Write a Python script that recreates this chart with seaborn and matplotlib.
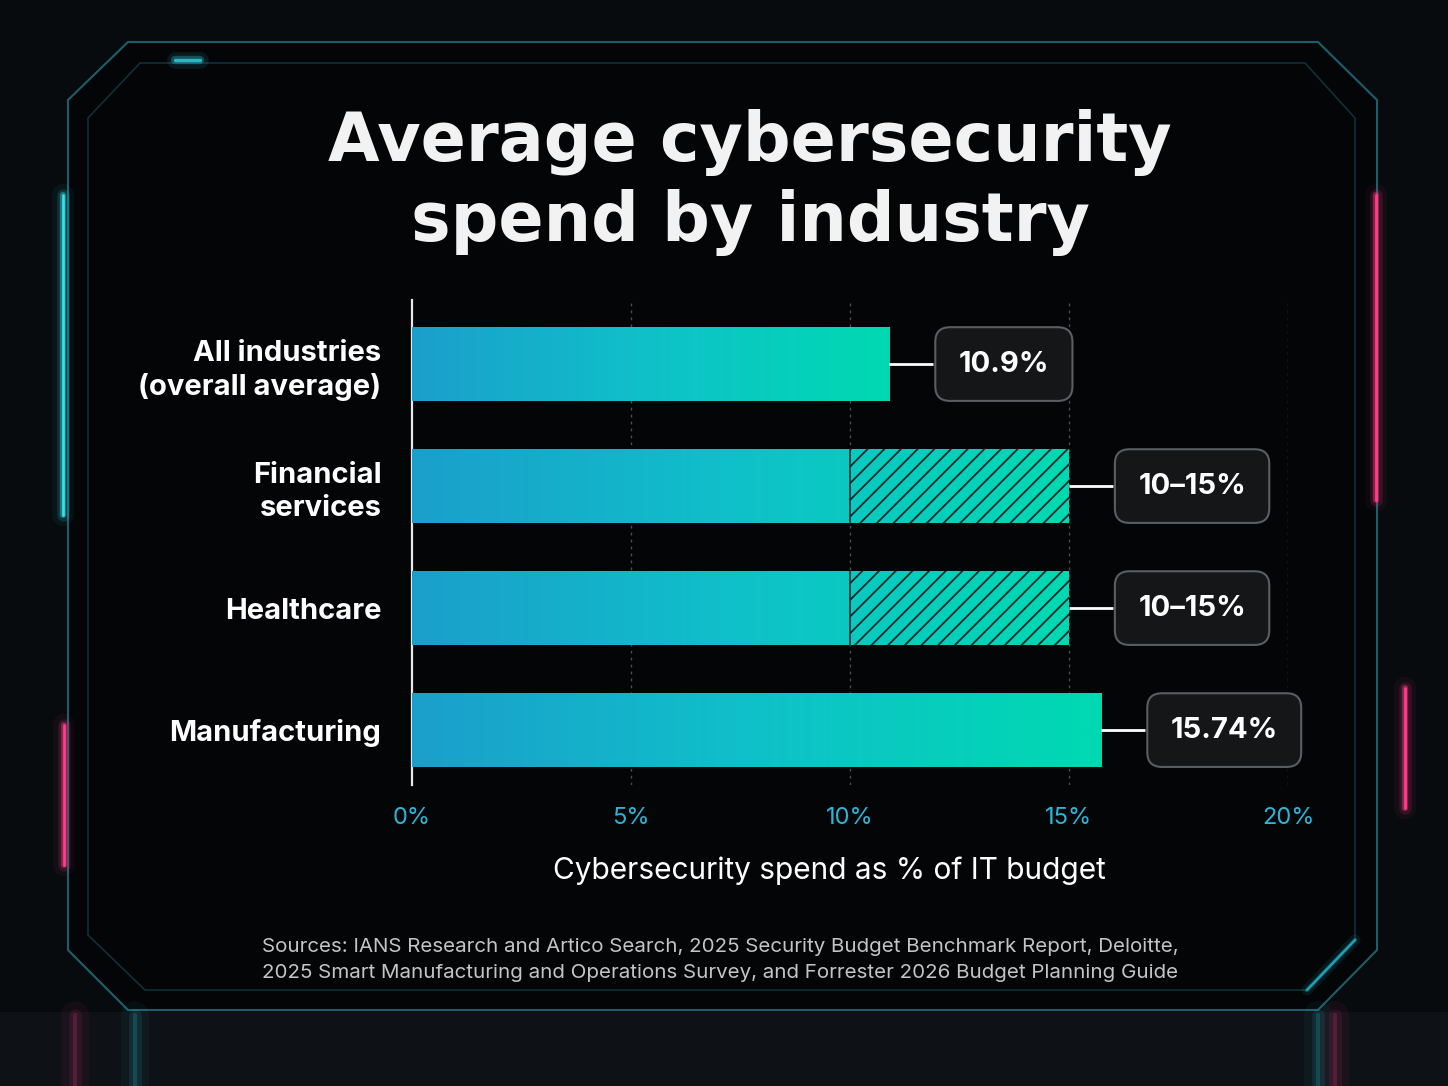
import numpy as np
import pandas as pd
import matplotlib
matplotlib.use("Agg")
import matplotlib.pyplot as plt
import seaborn as sns
from matplotlib.colors import LinearSegmentedColormap
from matplotlib.lines import Line2D
from matplotlib.patches import Polygon

# data
industries = ["All industries\n(overall average)", "Financial\nservices", "Healthcare", "Manufacturing"]
spend_low = [10.9, 10, 10, 15.74]
spend_high = [10.9, 15, 15, 15.74]
value_labels = ["10.9%", "10–15%", "10–15%", "15.74%"]
x_ticks = [0, 5, 10, 15, 20]
x_tick_labels = ["0%", "5%", "10%", "15%", "20%"]

title = "Average cybersecurity\nspend by industry"
x_label = "Cybersecurity spend as % of IT budget"
source = ("Sources: IANS Research and Artico Search, 2025 Security Budget Benchmark Report, Deloitte,\n"
          "2025 Smart Manufacturing and Operations Survey, and Forrester 2026 Budget Planning Guide")

df = pd.DataFrame({"industry": industries, "low": spend_low, "high": spend_high, "label": value_labels})

sns.set_theme(style="dark")
plt.rcParams["font.family"] = ["Inter", "DejaVu Sans"]
plt.rcParams["hatch.linewidth"] = 1.3

W, H = 1448, 1086
fig = plt.figure(figsize=(W / 100, H / 100), dpi=100)
fig.patch.set_facecolor("#080b0e")


def px(x, y):
    return (x / W, 1 - y / H)


def glow_line(pts, color, widths=((16, 0.05), (9, 0.14), (4.5, 0.4), (2, 1.0)), z=-1):
    xs = [p[0] / W for p in pts]
    ys = [1 - p[1] / H for p in pts]
    for lw, al in widths:
        fig.lines.append(Line2D(xs, ys, transform=fig.transFigure, color=color, lw=lw, alpha=al,
                                solid_capstyle="round", zorder=z))


# frame / background decoration
outer = [(128, 42), (1318, 42), (1377, 100), (1377, 950), (1318, 1010), (128, 1010), (68, 950), (68, 100)]
fig.patches.append(Polygon([px(*p) for p in outer], closed=True, transform=fig.transFigure,
                           facecolor="#030507", edgecolor="#1c5f6a", linewidth=1.5, zorder=-3))
inner = [(140, 63), (1305, 63), (1355, 118), (1355, 940), (1307, 990), (145, 990), (88, 935), (88, 118)]
fig.patches.append(Polygon([px(*p) for p in inner], closed=True, transform=fig.transFigure,
                           facecolor="none", edgecolor="#10303a", linewidth=1.2, zorder=-3))
fig.patches.append(Polygon([px(0, 1012), px(W, 1012), px(W, H), px(0, H)], closed=True,
                           transform=fig.transFigure, facecolor="#0e1115", edgecolor="none", zorder=-3))

# neon tubes
glow_line([(63, 195), (63, 515)], "#2fe3f0")
glow_line([(1376, 195), (1376, 500)], "#ff3d8b")
glow_line([(64, 725), (64, 865)], "#ff3d8b")
glow_line([(1405, 688), (1405, 808)], "#ff3d8b")
glow_line([(175, 60), (200, 60)], "#2fd0e0", widths=((12, 0.1), (6, 0.3), (2.5, 0.8)))
glow_line([(1307, 990), (1355, 940)], "#1fb8d0", widths=((8, 0.1), (3, 0.35), (1.5, 0.8)))
for (x0, c) in [(75, "#ff3d8b"), (135, "#2fd0e0"), (1318, "#2fd0e0"), (1335, "#ff3d8b")]:
    for lw, al in [(20, 0.05), (9, 0.1), (3, 0.18)]:
        fig.lines.append(Line2D([x0 / W, x0 / W], [1 - 1015 / H, 0], transform=fig.transFigure,
                                color=c, lw=lw, alpha=al, zorder=-1))

# chart axes
ax = fig.add_axes([412 / W, 1 - 785 / H, 876 / W, (785 - 300) / H], zorder=2)
ax.set_facecolor("none")

sns.barplot(data=df, x="high", y="industry", orient="h", width=0.6, color="#10c8c0",
            linewidth=0, ax=ax, zorder=3)

cmap = LinearSegmentedColormap.from_list("cyber", ["#1b9fcc", "#0fc1c9", "#00d9b2"])
grad = np.linspace(0, 1, 256).reshape(1, -1)
for patch in list(ax.patches):
    x0, y0 = patch.get_x(), patch.get_y()
    w, h = patch.get_width(), patch.get_height()
    im = ax.imshow(grad, cmap=cmap, extent=[x0, x0 + w, y0 + h, y0], aspect="auto", zorder=3.5,
                   interpolation="bilinear")
    im.set_clip_path(patch)

# hatched ranges
for i, (lo, hi) in enumerate(zip(spend_low, spend_high)):
    if hi > lo:
        ax.barh(i, hi - lo, left=lo, height=0.6, facecolor="none", hatch="//",
                edgecolor="#0a2a2a", linewidth=0, zorder=4)
        ax.plot([lo, lo], [i - 0.3, i + 0.3], color="#0a2a2a", lw=1.2, zorder=4.5)

# connectors + value boxes
for i, (hi, lab) in enumerate(zip(spend_high, value_labels)):
    ax.plot([hi, hi + 1.0], [i, i], color="white", lw=2, zorder=4, solid_capstyle="butt")
    ax.text(hi + 1.0 + 0.58, i, lab, ha="left", va="center", color="white", fontsize=21,
            fontweight="bold", zorder=6,
            bbox=dict(boxstyle="round,pad=0.8,rounding_size=0.5", facecolor="#141618",
                      edgecolor="#5a5e62", linewidth=1.5))

ax.set_xlim(0, 20)
ax.set_ylim(3.45, -0.525)
ax.set_xticks(x_ticks)
ax.set_xticklabels(x_tick_labels)
ax.tick_params(axis="x", length=0, pad=16, labelsize=17, labelcolor="#2bb6d8")
ax.tick_params(axis="y", length=0, pad=22, labelsize=21, labelcolor="white")
for t in ax.get_yticklabels():
    t.set_fontweight("bold")
    t.set_linespacing(1.3)
ax.set_ylabel("")
ax.set_xlabel(x_label, color="white", fontsize=21.5)
ax.xaxis.set_label_coords(0.476, -0.148)

ax.grid(False)
for x in x_ticks[1:]:
    ax.axvline(x, color="#4a4f55", lw=1, ls=(0, (2, 3)), zorder=1)
for s in ["top", "right", "bottom"]:
    ax.spines[s].set_visible(False)
ax.spines["left"].set_color("#e8e8e8")
ax.spines["left"].set_linewidth(1.6)

fig.text(750 / W, 1 - 183 / H, title, ha="center", va="center", color="#f2f2f2", fontsize=48,
         fontweight="heavy", family=["DejaVu Sans"], linespacing=1.25)
fig.text(720 / W, 1 - 960 / H, source, ha="center", va="center", color="#c4c4c4", fontsize=14.8,
         linespacing=1.55)

fig.savefig("out.png", dpi=100, facecolor=fig.get_facecolor())
